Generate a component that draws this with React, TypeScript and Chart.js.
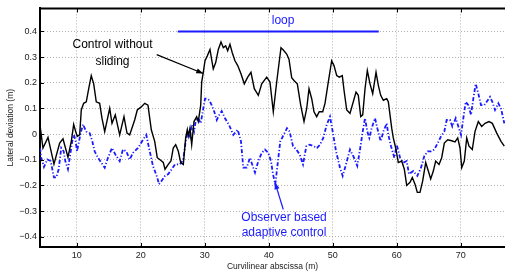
import React, { useEffect, useRef } from "react";
import { Chart, registerables } from "chart.js";

Chart.register(...registerables);

// ---- data ----
const controlX = [4.27, 4.73, 5.52, 6.45, 7.34, 7.86, 8.64, 9.16, 9.53, 9.84, 10.09, 10.47, 10.72, 11.09, 11.5, 11.88, 12.28, 12.66, 13.06, 13.59, 13.95, 14.38, 15.16, 15.52, 16.03, 16.72, 17.39, 17.86, 18.28, 19.06, 19.47, 20.09, 20.63, 21.14, 21.66, 22.19, 22.59, 23.02, 23.53, 23.8, 24.31, 24.73, 25.09, 25.47, 25.88, 26.25, 26.66, 27.03, 27.28, 27.44, 27.7, 27.97, 28.33, 28.75, 29.0, 29.38, 29.53, 29.78, 30.05, 30.41, 30.83, 31.09, 31.34, 31.72, 32.13, 32.55, 32.91, 33.28, 33.59, 33.95, 34.31, 34.73, 35.16, 35.67, 36.19, 36.72, 37.23, 37.75, 38.38, 38.91, 39.69, 40.2, 40.72, 41.25, 41.92, 42.28, 42.81, 43.17, 43.59, 43.95, 44.47, 45.0, 45.52, 45.94, 46.3, 46.72, 47.08, 47.5, 47.9, 48.44, 48.8, 49.31, 49.84, 50.2, 50.63, 51.03, 51.5, 51.77, 52.19, 52.7, 53.22, 53.64, 54.0, 54.38, 54.69, 55.05, 55.41, 55.83, 56.25, 56.77, 57.13, 57.5, 57.91, 58.44, 58.69, 59.22, 59.47, 59.84, 60.25, 60.78, 61.19, 61.56, 62.08, 62.44, 62.86, 63.22, 63.64, 64.06, 64.53, 64.94, 65.31, 65.72, 66.09, 66.61, 67.03, 67.44, 67.97, 68.59, 69.11, 69.53, 69.89, 70.16, 70.56, 70.94, 71.3, 71.81, 72.23, 72.75, 73.28, 73.8, 74.42, 74.94, 75.63, 76.3, 76.81];
const controlY = [0.035, -0.054, -0.013, -0.117, -0.035, -0.018, -0.09, -0.028, 0.038, 0.01, -0.009, -0.003, 0.094, 0.12, 0.126, 0.177, 0.228, 0.196, 0.126, 0.12, 0.062, 0.01, 0.1, 0.042, 0.075, -0.003, 0.068, 0.004, -0.003, 0.055, 0.094, 0.106, 0.12, 0.113, 0.017, -0.028, -0.092, -0.1, -0.11, -0.137, -0.118, -0.105, -0.054, -0.041, -0.067, -0.111, -0.118, -0.015, 0.017, -0.008, 0.023, -0.041, 0.049, 0.068, 0.049, 0.113, 0.203, 0.241, 0.286, 0.305, 0.33, 0.29, 0.254, 0.279, 0.33, 0.359, 0.337, 0.344, 0.325, 0.35, 0.317, 0.286, 0.267, 0.235, 0.196, 0.222, 0.241, 0.177, 0.151, 0.196, 0.222, 0.203, 0.087, 0.203, 0.337, 0.328, 0.312, 0.292, 0.22, 0.209, 0.196, 0.113, 0.049, 0.1, 0.177, 0.138, 0.087, 0.068, 0.087, 0.087, 0.12, 0.203, 0.286, 0.267, 0.228, 0.222, 0.228, 0.171, 0.094, 0.081, 0.126, 0.164, 0.151, 0.068, 0.075, 0.177, 0.248, 0.196, 0.158, 0.241, 0.19, 0.151, 0.132, 0.138, 0.126, 0.023, -0.015, -0.054, -0.111, -0.105, -0.137, -0.2, -0.188, -0.169, -0.195, -0.227, -0.227, -0.182, -0.111, -0.144, -0.175, -0.144, -0.105, -0.118, -0.092, -0.035, -0.022, -0.026, -0.03, -0.015, -0.054, -0.131, -0.105, -0.015, -0.047, -0.06, 0.01, 0.049, 0.03, 0.042, 0.049, 0.042, 0.004, -0.028, -0.047];

const observerX = [4.27, 4.47, 4.89, 5.41, 5.94, 6.45, 6.81, 7.19, 7.59, 7.97, 8.22, 8.64, 9.0, 9.31, 9.58, 9.84, 10.05, 10.31, 10.63, 10.98, 11.5, 12.03, 12.44, 12.81, 13.33, 13.84, 14.38, 14.89, 15.52, 16.03, 16.72, 17.23, 17.75, 18.28, 18.8, 19.58, 20.36, 20.88, 21.3, 21.92, 22.59, 22.86, 23.28, 23.8, 24.31, 24.84, 25.36, 26.14, 26.66, 27.03, 27.34, 27.7, 27.97, 28.33, 28.59, 29.0, 29.38, 29.78, 30.05, 30.41, 30.72, 31.09, 31.5, 31.88, 32.28, 32.66, 33.17, 33.8, 34.47, 35.16, 35.67, 36.03, 36.56, 37.08, 37.59, 37.86, 38.38, 38.91, 39.42, 39.94, 40.36, 40.67, 41.03, 41.39, 41.81, 42.33, 42.86, 43.27, 43.8, 44.31, 44.83, 45.36, 45.88, 46.39, 47.02, 47.55, 48.02, 48.53, 49.06, 49.58, 50.0, 50.52, 51.14, 51.56, 52.08, 52.7, 53.33, 53.84, 54.27, 54.69, 55.05, 55.41, 55.72, 56.09, 56.61, 56.97, 57.5, 57.91, 58.44, 58.69, 59.11, 59.63, 60.0, 60.52, 61.03, 61.56, 61.92, 62.59, 63.22, 63.8, 64.31, 64.84, 65.36, 65.88, 66.41, 66.92, 67.44, 67.81, 68.33, 68.69, 69.22, 69.63, 70.05, 70.41, 70.78, 71.19, 71.61, 71.97, 72.34, 72.75, 73.17, 73.69, 74.06, 74.58, 74.94, 75.36, 75.88, 76.3, 76.81];
const observerY = [-0.054, -0.092, -0.128, -0.099, -0.105, -0.169, -0.169, -0.137, -0.054, -0.067, -0.105, -0.137, -0.079, -0.028, -0.003, -0.028, -0.067, -0.035, 0.004, 0.038, 0.01, 0.004, -0.028, -0.067, -0.092, -0.111, -0.131, -0.092, -0.054, -0.079, -0.105, -0.06, -0.067, -0.099, -0.073, -0.054, -0.022, -0.003, -0.054, -0.124, -0.169, -0.195, -0.182, -0.163, -0.156, -0.137, -0.118, -0.118, -0.099, -0.028, 0.01, -0.01, 0.036, 0.01, 0.049, 0.062, 0.042, 0.1, 0.138, 0.138, 0.132, 0.113, 0.087, 0.055, 0.075, 0.09, 0.062, 0.036, -0.003, 0.017, -0.028, -0.131, -0.131, -0.092, -0.131, -0.15, -0.105, -0.073, -0.06, -0.073, -0.105, -0.156, -0.195, -0.118, -0.028, -0.003, 0.023, 0.01, -0.047, -0.06, -0.079, -0.118, -0.047, -0.041, -0.047, -0.054, -0.041, -0.015, 0.036, 0.068, 0.01, -0.067, -0.131, -0.163, -0.118, -0.06, -0.092, -0.124, -0.06, 0.01, 0.062, 0.01, -0.015, 0.023, 0.062, 0.023, -0.028, 0.01, 0.042, -0.003, -0.047, -0.092, -0.041, -0.092, -0.111, -0.105, -0.156, -0.144, -0.163, -0.131, -0.086, -0.067, -0.067, -0.06, -0.035, -0.009, 0.01, 0.055, 0.055, 0.03, 0.062, 0.03, -0.003, 0.062, 0.126, 0.113, 0.075, 0.138, 0.196, 0.158, 0.113, 0.113, 0.126, 0.145, 0.126, 0.094, 0.12, 0.1, 0.042];

const loopX = [25.8, 57.2];
const loopY = [0.4, 0.4];

const xTicks = [10, 20, 30, 40, 50, 60, 70];
const yTicks = [-0.4, -0.3, -0.2, -0.1, 0, 0.1, 0.2, 0.3, 0.4];

const FONT = "'Liberation Sans', Arial, Helvetica, sans-serif";
const BLUE = "#1a1aff";

const pts = (xs: number[], ys: number[]) => xs.map((x, i) => ({ x, y: ys[i] }));

function drawArrow(ctx: CanvasRenderingContext2D, x1: number, y1: number, x2: number, y2: number, color: string) {
  ctx.save();
  ctx.strokeStyle = color;
  ctx.fillStyle = color;
  ctx.lineWidth = 1.2;
  ctx.beginPath();
  ctx.moveTo(x1, y1);
  ctx.lineTo(x2, y2);
  ctx.stroke();
  const a = Math.atan2(y2 - y1, x2 - x1);
  const len = 7, w = 2.6;
  ctx.beginPath();
  ctx.moveTo(x2, y2);
  ctx.lineTo(x2 - len * Math.cos(a) + w * Math.sin(a), y2 - len * Math.sin(a) - w * Math.cos(a));
  ctx.lineTo(x2 - len * Math.cos(a) - w * Math.sin(a), y2 - len * Math.sin(a) + w * Math.cos(a));
  ctx.closePath();
  ctx.fill();
  ctx.restore();
}

const annotPlugin = {
  id: "annot",
  afterDatasetsDraw(chart: any) {
    const { ctx, chartArea, scales } = chart;
    const sx = scales.x, sy = scales.y;
    const X = (v: number) => sx.getPixelForValue(v);
    const Y = (v: number) => sy.getPixelForValue(v);
    ctx.save();
    // top frame line
    ctx.strokeStyle = "#000";
    ctx.lineWidth = 2;
    ctx.beginPath();
    ctx.moveTo(chartArea.left - 1, chartArea.top);
    ctx.lineTo(chartArea.right, chartArea.top);
    ctx.stroke();
    // inward tick marks
    ctx.lineWidth = 1;
    ctx.beginPath();
    for (const t of xTicks) {
      const px = Math.round(X(t)) + 0.5;
      ctx.moveTo(px, chartArea.bottom);
      ctx.lineTo(px, chartArea.bottom - 4);
      ctx.moveTo(px, chartArea.top);
      ctx.lineTo(px, chartArea.top + 4);
    }
    for (const t of yTicks) {
      const py = Math.round(Y(t)) + 0.5;
      ctx.moveTo(chartArea.left, py);
      ctx.lineTo(chartArea.left + 4, py);
    }
    ctx.stroke();

    ctx.font = `12px ${FONT}`;
    ctx.textAlign = "center";
    ctx.textBaseline = "middle";
    // control label
    ctx.fillStyle = "#000";
    ctx.fillText("Control without", X(15.6), Y(0.348));
    ctx.fillText("sliding", X(15.6), Y(0.282));
    drawArrow(ctx, X(22.5), Y(0.31), X(29.78), Y(0.236), "#000");
    // loop label
    ctx.fillStyle = BLUE;
    ctx.fillText("loop", X(42.25), Y(0.443));
    // observer label
    ctx.fillText("Observer based", X(42.4), Y(-0.324));
    ctx.fillText("adaptive control", X(42.4), Y(-0.386));
    drawArrow(ctx, X(42.28), Y(-0.294), X(40.98), Y(-0.188), BLUE);
    ctx.restore();
  },
};

export default function App() {
  const ref = useRef<HTMLCanvasElement>(null);
  useEffect(() => {
    if (!ref.current) return;
    const chart = new Chart(ref.current, {
      type: "line",
      data: {
        datasets: [
          {
            label: "Control without sliding",
            data: pts(controlX, controlY),
            borderColor: "#000",
            borderWidth: 1.4,
            pointRadius: 0,
            tension: 0,
          },
          {
            label: "Observer based adaptive control",
            data: pts(observerX, observerY),
            borderColor: BLUE,
            borderWidth: 1.8,
            borderDash: [4, 2, 1.2, 2],
            pointRadius: 0,
            tension: 0,
          },
          {
            label: "loop",
            data: pts(loopX, loopY),
            borderColor: BLUE,
            borderWidth: 1.8,
            pointRadius: 0,
          },
        ],
      },
      options: {
        animation: false,
        responsive: false,
        maintainAspectRatio: false,
        layout: { padding: { top: 5, right: 0, left: 0, bottom: 0 } },
        plugins: { legend: { display: false }, tooltip: { enabled: false } },
        scales: {
          x: {
            type: "linear",
            min: 4.27,
            max: 76.92,
            afterFit: (s: any) => { s.height = 28; },
            afterBuildTicks: (s: any) => { s.ticks = xTicks.map((v) => ({ value: v })); },
            grid: { color: "#b0b0b0", lineWidth: 1, drawTicks: false },
            border: { display: true, color: "#000", width: 2, dash: [1, 2] },
            ticks: {
              padding: 3,
              color: "#222",
              font: { family: FONT, size: 9 },
              callback: (v: any) => String(v),
              maxRotation: 0,
              autoSkip: false,
            },
            title: {
              display: true,
              text: "Curvilinear abscissa (m)",
              color: "#222",
              font: { family: FONT, size: 8.5 },
              padding: { top: 0, bottom: 3 },
            },
          },
          y: {
            type: "linear",
            min: -0.44,
            max: 0.49,
            afterFit: (s: any) => { s.width = 40; },
            afterBuildTicks: (s: any) => { s.ticks = yTicks.map((v) => ({ value: v })); },
            grid: { color: "#b0b0b0", lineWidth: 1, drawTicks: false },
            border: { display: true, color: "#000", width: 2, dash: [1, 2] },
            ticks: {
              padding: 3,
              color: "#222",
              font: { family: FONT, size: 9 },
              autoSkip: false,
              callback: (v: any) => {
                const n = Math.round(Number(v) * 10) / 10;
                if (n === 0) return "0";
                return (n < 0 ? "\u2212" : "") + Math.abs(n).toFixed(1);
              },
            },
            title: {
              display: true,
              text: "Lateral deviation (m)",
              color: "#222",
              font: { family: FONT, size: 8.5 },
              padding: { top: 6, bottom: 0 },
            },
          },
        },
      },
      plugins: [annotPlugin],
    });
    return () => chart.destroy();
  }, []);
  return (
    <div style={{ position: "fixed", left: 0, top: 0, width: 505, height: 275, background: "#fff" }}>
      <canvas ref={ref} width={505} height={275} style={{ width: 505, height: 275 }} />
    </div>
  );
}
